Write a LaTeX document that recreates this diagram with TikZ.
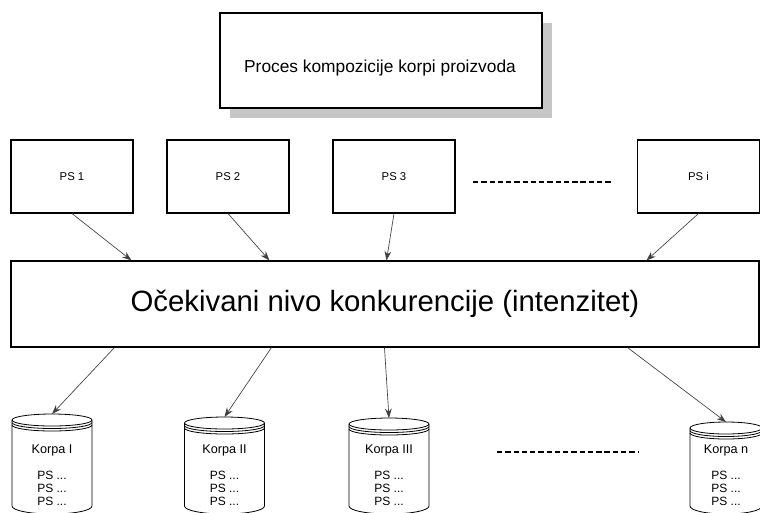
\documentclass[tikz,border=0pt]{standalone}
\usepackage{fontspec}
\setmainfont{Liberation Sans}
\usetikzlibrary{arrows.meta,calc}

\newcommand{\korpa}[5]{%
  \draw (#2,{#3+6}) ellipse (#4 and 6);
  \draw ({#2-#4},{#3+8.5}) arc (180:0:#4 and 6);
  \draw ({#2-#4},{#3+11}) arc (180:0:#4 and 6);
  \draw ({#2-#4},{#3+6}) -- ({#2-#4},506) arc (180:0:#4 and 8) -- ({#2+#4},{#3+6});
  \coordinate (#1) at (#2,#3);
  \node[font=\fontsize{9.5}{11}\selectfont] (#1name) at (#2,450) {#5};
  \node[font=\fontsize{9}{9.75}\selectfont,align=left,anchor=north,inner sep=0pt] (#1list) at (#2,471) {PS ...\\PS ...\\PS ...};
}

\begin{document}
\begin{tikzpicture}[x=0.75pt,y=-0.75pt,line width=0.6pt,
  box/.style={draw,line width=0.8pt,fill=white,inner sep=0pt},
  psbox/.style={box,minimum width=91.5pt,minimum height=54.75pt,font=\fontsize{8.5}{10}\selectfont},
  arr/.style={-{Stealth[length=7pt,width=5pt]},black!75,line width=0.5pt},
  dots/.style={line width=1.5pt,dash pattern=on 4pt off 2.2pt}]
\useasboundingbox (0,0) rectangle (760,512);
\fill[gray!45] (230,23) rectangle (552,118);
\node[box,minimum width=241.5pt,minimum height=71.25pt] (proces) at (381,60.5) {};
\node[font=\fontsize{13}{15}\selectfont] (procestxt) at (380,68) {Proces kompozicije korpi proizvoda};
\node[psbox] (ps1) at (72,176.5) {PS 1};
\node[psbox] (ps2) at (228,176.5) {PS 2};
\node[psbox] (ps3) at (394,176.5) {PS 3};
\node[psbox] (psi) at (698.5,176.5) {PS i};
\draw[dots] (473,182) -- (613,182);
\node[box,minimum width=561pt,minimum height=64.5pt,font=\fontsize{22}{26}\selectfont] (nivo) at (385,304) {Očekivani nivo konkurencije (intenzitet)};
\draw[arr] (ps1.south) -- ($(nivo.north west)+(121,0)$);
\draw[arr] (ps2.south) -- ($(nivo.north west)+(259,0)$);
\draw[arr] (ps3.south) -- ($(nivo.north west)+(376,0)$);
\draw[arr] (psi.south) -- ($(nivo.north west)+(636,0)$);
\korpa{k1}{52}{414}{40}{Korpa I}
\korpa{k2}{224.5}{417}{40}{Korpa II}
\korpa{k3}{389}{418}{40}{Korpa III}
\korpa{kn}{726}{422}{36}{Korpa n}
\draw[dots] (497,452) -- (638,452);
\draw[arr] ($(nivo.south west)+(104,0)$) -- (k1);
\draw[arr] ($(nivo.south west)+(261,0)$) -- (k2);
\draw[arr] ($(nivo.south west)+(374,0)$) -- (k3);
\draw[arr] ($(nivo.south west)+(617,0)$) -- (kn);
\end{tikzpicture}
\end{document}
